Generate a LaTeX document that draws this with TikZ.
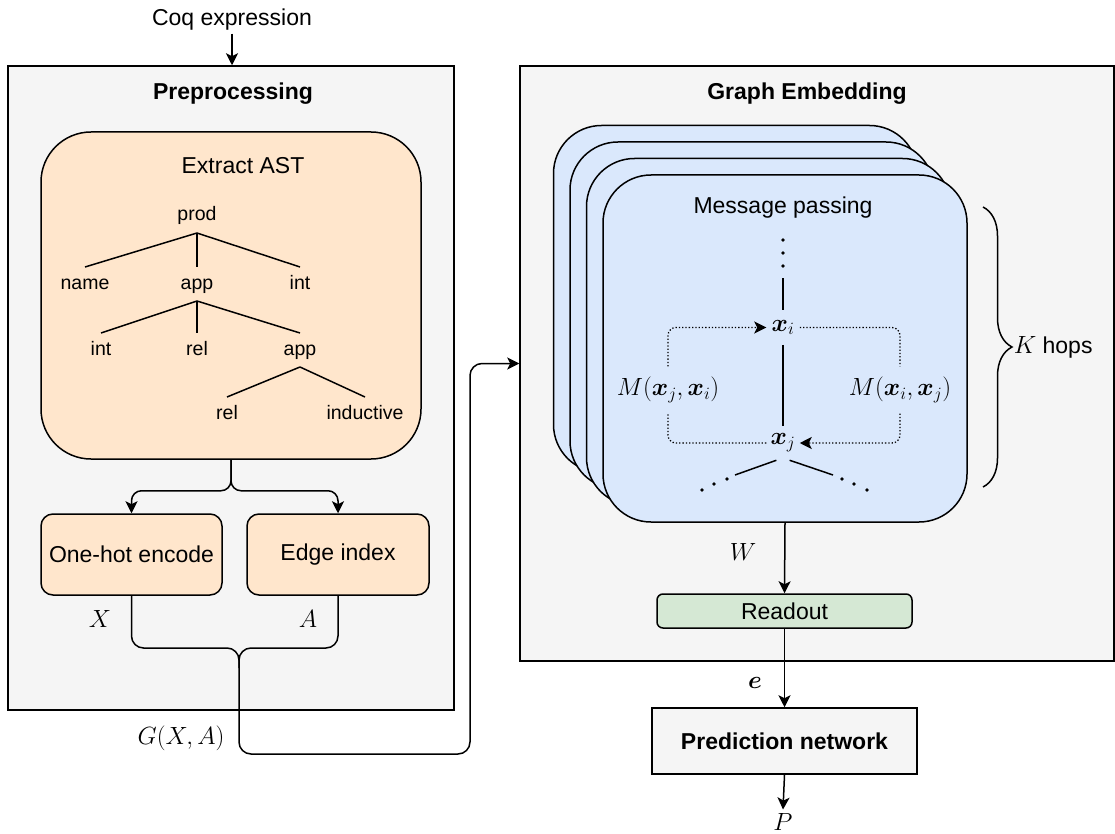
\documentclass[tikz,border=0pt]{standalone}
\usepackage{fontspec}
\setmainfont{Liberation Sans}
\usepackage{amsmath,bm}
\usetikzlibrary{arrows.meta,decorations.pathreplacing}
\definecolor{grayfill}{HTML}{F5F5F5}
\definecolor{orangefill}{HTML}{FFE6CC}
\definecolor{bluefill}{HTML}{DAE8FC}
\definecolor{greenfill}{HTML}{D5E8D4}

\begin{document}
\begin{tikzpicture}[x=1pt, y=-1pt, line width=1.5pt,
    every node/.style={font=\fontsize{23}{27}\selectfont, inner sep=0pt},
    arr/.style={-{Stealth[length=12pt, width=12pt, inset=3pt]}},
    frame/.style={draw, fill=grayfill},
    stepbox/.style={draw, fill=orangefill, rounded corners=12pt, minimum width=181pt, minimum height=81pt},
    mpbox/.style={draw, fill=bluefill, rounded corners=48pt, minimum width=364pt, minimum height=347pt},
    leaf/.style={font=\fontsize{19.5}{23}\selectfont, inner sep=2pt, outer sep=6pt, text height=14pt, text depth=4pt},
    bigmath/.style={font=\fontsize{28}{32}\selectfont},
    msg/.style={font=\fontsize{25}{29}\selectfont, inner sep=10pt},
    vec/.style={font=\fontsize{25}{29}\selectfont, minimum width=32pt, minimum height=33pt},
    dots/.style={dotted, line width=1.3pt, rounded corners=8pt}]
    \useasboundingbox (0,0) rectangle (1115,834);

    % Preprocessing
    \node[outer sep=3pt] (coq) at (232,20) {Coq expression};
    \node[frame, minimum width=446pt, minimum height=644pt] (prep) at (231,388) {};
    \node[font=\fontsize{23}{27}\selectfont\bfseries] (preptitle) at (233,94) {Preprocessing};
    \node[draw, fill=orangefill, rounded corners=50pt, minimum width=380pt, minimum height=327pt] (ast) at (231,295.5) {};
    \node (asttitle) at (243,166) {Extract AST};

    \node[leaf] (prod) at (197,216) {prod};
    \node[leaf] (name) at (85,284) {name};
    \node[leaf] (app) at (197,284) {app};
    \node[leaf] (int) at (300,284) {int};
    \node[leaf] (int2) at (101,350) {int};
    \node[leaf] (rel) at (197,350) {rel};
    \node[leaf] (app2) at (300,350) {app};
    \node[leaf] (rel2) at (227,414) {rel};
    \node[leaf] (induct) at (365,414) {inductive};

    \draw (prod.south) -- (name.north);
    \draw (prod.south) -- (app.north);
    \draw (prod.south) -- (int.north);
    \draw (app.south) -- (int2.north);
    \draw (app.south) -- (rel.north);
    \draw (app.south) -- (app2.north);
    \draw (app2.south) -- (rel2.north);
    \draw (app2.south) -- (induct.north);

    \node[stepbox] (onehot) at (131.5,554.5) {One-hot encode};
    \node[stepbox, minimum width=182pt] (edgeidx) at (338,554.5) {Edge index};

    \node[bigmath] (xlab) at (100,619) {$X$};
    \node[bigmath] (alab) at (308,619) {$A$};
    \node[bigmath] (glab) at (181,738) {$G(X,A)$};

    % Graph embedding
    \node[frame, minimum width=594pt, minimum height=595pt] (embed) at (817,363.5) {};
    \node[font=\fontsize{23}{27}\selectfont\bfseries] (embedtitle) at (807,94) {Graph Embedding};

    \foreach \k in {3,2,1}
      \node[mpbox] (mp\k) at ({785-16.5*\k},{348.5-16.5*\k}) {};
    \node[mpbox] (mp) at (785,348.5) {};
    \node (mptitle) at (783,208) {Message passing};

    \foreach \y in {240,253,266}
      \fill (783,\y) circle (1.8pt);
    \coordinate (vtop) at (783,278);
    \node[vec] (xi) at (783,327.5) {$\bm{x}_i$};
    \node[vec] (xj) at (783,443) {$\bm{x}_j$};
    \node[msg] (mleft) at (668,390) {$M(\bm{x}_j,\bm{x}_i)$};
    \node[msg] (mright) at (900,390) {$M(\bm{x}_i,\bm{x}_j)$};
    \coordinate (dl) at (735,475);
    \coordinate (dr) at (833,475);
    \foreach \x/\y in {702/490,714/484,727/479,842/479,854/484,867/490}
      \fill (\x,\y) circle (1.8pt);

    \draw (vtop) -- (xi.north);
    \draw (xi.south) -- (xj.north);
    \draw (xj.249) -- (dl);
    \draw (xj.291) -- (dr);
    \draw[dots] (xj.west) -| (mleft.south);
    \draw[dots, arr] (mleft.north) |- (xi.west);
    \draw[dots] (xi.east) -| (mright.north);
    \draw[dots, arr] (mright.south) |- (xj.east);

    \draw[decorate, decoration={brace, amplitude=29pt}] (983,207) -- (983,487);
    \node[anchor=base west] (khops) at (1013,353) {{\fontsize{27}{30}\selectfont$K$} hops};

    \node[draw, fill=greenfill, rounded corners=6pt, minimum width=255pt, minimum height=34pt] (readout) at (784.5,611) {Readout};
    \node[frame, minimum width=265pt, minimum height=66pt, font=\fontsize{23}{27}\selectfont\bfseries] (pred) at (784.5,741) {Prediction network};
    \node[bigmath, outer sep=4pt] (p) at (783,822) {$P$};
    \node[bigmath] (wlab) at (743,552) {$W$};
    \node[bigmath] (elab) at (755,683) {$\bm{e}$};

    % Arrows
    \draw[arr] (coq.south) -- (coq.south |- prep.north);
    \draw[arr, rounded corners=10pt] (ast.south) -- ++(0,31) -| (onehot.north);
    \draw[arr, rounded corners=10pt] (ast.south) -- ++(0,31) -| (edgeidx.north);
    \coordinate (merge) at (239,648);
    \coordinate (bend) at (470,754);
    \draw[rounded corners=12pt] (edgeidx.south) |- (merge) -- ++(0,20);
    \draw[arr, rounded corners=12pt] (onehot.south) |- (merge) -- (merge |- bend) -- (bend) |- (embed.west);
    \draw[arr] (mp.south) -- (readout.north);
    \draw[arr] (readout.south) -- (pred.north);
    \draw[arr] (pred.south) -- (p.north);
  \end{tikzpicture}
\end{document}
